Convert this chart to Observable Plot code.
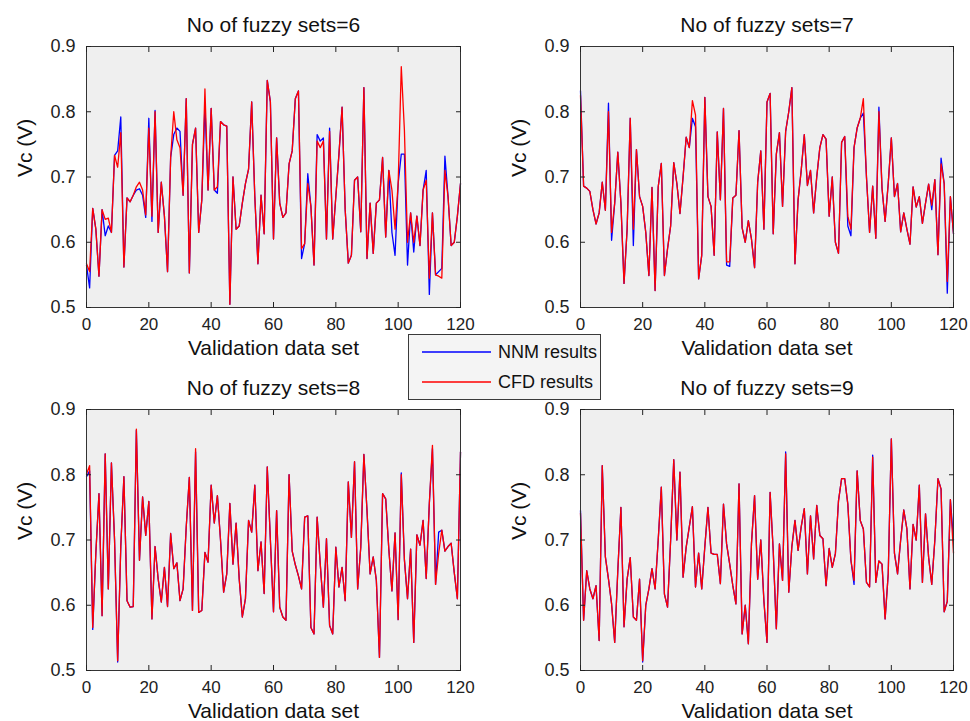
<!DOCTYPE html>
<html><head><meta charset="utf-8">
<script src="https://cdn.jsdelivr.net/npm/d3@7"></script>
<script src="https://cdn.jsdelivr.net/npm/@observablehq/plot@0.6"></script>
<style>
html,body{margin:0;padding:0;background:#fff;}
#chart{position:relative;width:970px;height:721px;overflow:hidden;font-family:"Liberation Sans",Arial,sans-serif;background:#fff;}
.panel{position:absolute;}
#legend{position:absolute;left:408px;top:334px;width:191px;height:64px;border:1px solid #3a3a3a;background:#f4f4f4;z-index:5;}
</style></head><body><div id="chart"></div>
<script>
const xTicks = [0, 20, 40, 60, 80, 100, 120];
const yTicks = [0.5, 0.6, 0.7, 0.8, 0.9];
const panelTitles = ["No of fuzzy sets=6", "No of fuzzy sets=7", "No of fuzzy sets=8", "No of fuzzy sets=9"];
const xLabel = "Validation data set";
const yLabel = "Vc (V)";
const seriesNames = ["NNM results", "CFD results"];

const cfd6 = [0.567,0.555,0.652,0.620,0.548,0.650,0.635,0.637,0.615,0.733,
 0.715,0.768,0.562,0.668,0.662,0.672,0.685,0.692,0.680,0.642,
 0.775,0.640,0.800,0.615,0.692,0.640,0.555,0.730,0.800,0.757,
 0.745,0.672,0.820,0.553,0.750,0.775,0.615,0.665,0.835,0.680,
 0.805,0.680,0.685,0.785,0.780,0.778,0.505,0.700,0.620,0.625,
 0.660,0.690,0.712,0.815,0.670,0.567,0.672,0.613,0.848,0.815,
 0.605,0.760,0.660,0.638,0.645,0.720,0.740,0.820,0.832,0.590,
 0.598,0.690,0.655,0.565,0.755,0.745,0.755,0.605,0.770,0.605,
 0.670,0.735,0.807,0.650,0.568,0.580,0.695,0.700,0.616,0.837,
 0.575,0.660,0.583,0.660,0.665,0.730,0.608,0.710,0.680,0.620,
 0.690,0.869,0.772,0.600,0.645,0.600,0.640,0.595,0.680,0.695,
 0.545,0.645,0.550,0.548,0.545,0.710,0.670,0.595,0.600,0.640,
 0.690];
const nnm6 = [0.565,0.530,0.652,0.620,0.548,0.650,0.610,0.625,0.615,0.733,
 0.740,0.792,0.562,0.668,0.662,0.672,0.680,0.682,0.672,0.638,
 0.790,0.632,0.802,0.615,0.692,0.640,0.555,0.730,0.765,0.775,
 0.770,0.672,0.820,0.553,0.750,0.775,0.615,0.665,0.810,0.680,
 0.805,0.680,0.675,0.785,0.780,0.778,0.505,0.700,0.620,0.625,
 0.660,0.690,0.712,0.815,0.670,0.567,0.672,0.613,0.848,0.815,
 0.605,0.760,0.660,0.638,0.645,0.720,0.740,0.820,0.832,0.575,
 0.598,0.705,0.655,0.565,0.765,0.755,0.760,0.605,0.775,0.605,
 0.670,0.735,0.807,0.650,0.568,0.580,0.695,0.700,0.616,0.837,
 0.575,0.660,0.583,0.660,0.665,0.730,0.608,0.710,0.615,0.580,
 0.690,0.735,0.735,0.565,0.645,0.585,0.640,0.595,0.680,0.710,
 0.520,0.645,0.550,0.555,0.560,0.732,0.670,0.595,0.600,0.640,
 0.690];

const cfd7 = [0.825,0.686,0.683,0.678,0.650,0.628,0.645,0.692,0.649,0.800,
 0.615,0.660,0.738,0.660,0.537,0.620,0.790,0.620,0.742,0.670,
 0.655,0.615,0.549,0.684,0.526,0.685,0.721,0.549,0.590,0.625,
 0.722,0.690,0.644,0.700,0.761,0.745,0.817,0.795,0.544,0.580,
 0.822,0.670,0.655,0.580,0.769,0.665,0.805,0.570,0.570,0.668,
 0.672,0.771,0.622,0.600,0.633,0.605,0.561,0.692,0.740,0.620,
 0.815,0.828,0.613,0.735,0.768,0.655,0.770,0.800,0.837,0.567,
 0.665,0.710,0.765,0.687,0.710,0.645,0.700,0.745,0.765,0.758,
 0.640,0.700,0.600,0.583,0.753,0.762,0.640,0.620,0.745,0.775,
 0.790,0.820,0.700,0.615,0.686,0.606,0.800,0.683,0.632,0.690,
 0.760,0.670,0.690,0.616,0.645,0.620,0.597,0.685,0.654,0.670,
 0.629,0.660,0.689,0.657,0.696,0.581,0.720,0.690,0.540,0.670,
 0.613];
const nnm7 = [0.832,0.686,0.683,0.678,0.650,0.628,0.645,0.692,0.649,0.813,
 0.603,0.660,0.738,0.660,0.537,0.620,0.790,0.595,0.742,0.670,
 0.655,0.615,0.549,0.684,0.526,0.685,0.721,0.549,0.590,0.625,
 0.722,0.690,0.644,0.700,0.761,0.745,0.790,0.777,0.544,0.580,
 0.822,0.670,0.655,0.580,0.769,0.665,0.805,0.565,0.563,0.668,
 0.672,0.771,0.622,0.600,0.633,0.605,0.561,0.692,0.740,0.620,
 0.815,0.828,0.613,0.735,0.768,0.655,0.770,0.800,0.837,0.567,
 0.665,0.710,0.765,0.687,0.710,0.645,0.700,0.745,0.765,0.758,
 0.640,0.700,0.600,0.583,0.753,0.762,0.625,0.610,0.745,0.775,
 0.790,0.798,0.700,0.615,0.686,0.606,0.807,0.683,0.632,0.690,
 0.760,0.670,0.690,0.616,0.645,0.620,0.597,0.685,0.654,0.670,
 0.629,0.660,0.689,0.650,0.696,0.581,0.729,0.690,0.522,0.670,
 0.613];

const cfd8 = [0.801,0.814,0.566,0.680,0.771,0.584,0.832,0.625,0.818,0.700,
 0.515,0.690,0.797,0.607,0.597,0.598,0.870,0.669,0.766,0.707,
 0.759,0.579,0.690,0.640,0.605,0.658,0.598,0.710,0.656,0.665,
 0.607,0.625,0.720,0.796,0.592,0.840,0.589,0.592,0.681,0.666,
 0.784,0.726,0.768,0.700,0.620,0.648,0.756,0.663,0.726,0.640,
 0.582,0.610,0.730,0.712,0.784,0.653,0.697,0.618,0.812,0.700,
 0.590,0.745,0.597,0.582,0.577,0.800,0.683,0.662,0.645,0.625,
 0.735,0.737,0.566,0.556,0.735,0.663,0.597,0.702,0.569,0.556,
 0.689,0.628,0.658,0.607,0.789,0.704,0.820,0.625,0.689,0.831,
 0.745,0.648,0.674,0.638,0.520,0.771,0.763,0.686,0.622,0.711,
 0.578,0.800,0.670,0.610,0.686,0.543,0.708,0.692,0.730,0.641,
 0.756,0.845,0.632,0.680,0.715,0.683,0.690,0.695,0.650,0.610,
 0.835];
const nnm8 = [0.797,0.806,0.563,0.680,0.771,0.584,0.832,0.625,0.818,0.700,
 0.513,0.690,0.797,0.607,0.597,0.598,0.868,0.669,0.766,0.707,
 0.759,0.579,0.690,0.640,0.605,0.658,0.598,0.710,0.656,0.665,
 0.607,0.625,0.720,0.796,0.592,0.835,0.589,0.592,0.681,0.666,
 0.784,0.726,0.768,0.700,0.620,0.648,0.756,0.663,0.726,0.640,
 0.582,0.610,0.730,0.712,0.784,0.653,0.697,0.618,0.812,0.700,
 0.590,0.745,0.597,0.582,0.577,0.800,0.683,0.662,0.645,0.625,
 0.735,0.737,0.566,0.556,0.735,0.663,0.597,0.702,0.569,0.556,
 0.689,0.628,0.658,0.607,0.789,0.704,0.820,0.625,0.689,0.831,
 0.745,0.648,0.674,0.638,0.520,0.771,0.763,0.686,0.622,0.711,
 0.578,0.803,0.670,0.610,0.686,0.543,0.708,0.692,0.730,0.641,
 0.756,0.840,0.632,0.712,0.715,0.683,0.690,0.695,0.650,0.610,
 0.835];

const cfd9 = [0.741,0.577,0.653,0.625,0.610,0.630,0.546,0.814,0.674,0.640,
 0.602,0.543,0.653,0.750,0.567,0.640,0.673,0.582,0.577,0.640,
 0.515,0.600,0.625,0.656,0.625,0.700,0.781,0.617,0.597,0.700,
 0.823,0.700,0.804,0.643,0.689,0.720,0.751,0.628,0.680,0.625,
 0.690,0.750,0.680,0.678,0.678,0.633,0.755,0.694,0.663,0.630,
 0.602,0.786,0.556,0.600,0.541,0.694,0.768,0.640,0.700,0.607,
 0.543,0.773,0.684,0.564,0.694,0.638,0.832,0.620,0.690,0.730,
 0.684,0.720,0.748,0.648,0.737,0.671,0.753,0.707,0.702,0.630,
 0.687,0.658,0.679,0.760,0.794,0.794,0.755,0.669,0.638,0.806,
 0.730,0.717,0.635,0.628,0.827,0.635,0.668,0.663,0.579,0.648,
 0.855,0.680,0.648,0.700,0.746,0.717,0.625,0.724,0.700,0.784,
 0.635,0.740,0.673,0.632,0.700,0.794,0.778,0.590,0.606,0.762,
 0.680];
const nnm9 = [0.745,0.577,0.653,0.625,0.610,0.630,0.546,0.814,0.674,0.640,
 0.602,0.543,0.653,0.750,0.567,0.640,0.673,0.582,0.577,0.640,
 0.513,0.600,0.625,0.656,0.625,0.700,0.781,0.617,0.597,0.700,
 0.823,0.700,0.804,0.643,0.689,0.720,0.751,0.628,0.680,0.625,
 0.690,0.750,0.680,0.678,0.678,0.633,0.755,0.694,0.663,0.630,
 0.602,0.786,0.556,0.600,0.541,0.694,0.768,0.640,0.700,0.607,
 0.543,0.773,0.684,0.564,0.694,0.638,0.835,0.620,0.690,0.730,
 0.684,0.720,0.748,0.648,0.737,0.671,0.753,0.707,0.702,0.630,
 0.687,0.658,0.679,0.760,0.794,0.794,0.755,0.669,0.632,0.806,
 0.730,0.717,0.635,0.628,0.830,0.635,0.668,0.663,0.579,0.648,
 0.855,0.680,0.648,0.700,0.746,0.717,0.625,0.724,0.700,0.784,
 0.635,0.740,0.673,0.632,0.700,0.794,0.778,0.590,0.606,0.762,
 0.700];

const FONT = '"Liberation Sans", Arial, Helvetica, sans-serif';

function panel(title, nnm, cfd, pos) {
  const fig = Plot.plot({
    width: 485, height: 358,
    marginLeft: pos.ml, marginRight: pos.mr, marginTop: 46, marginBottom: 51,
    style: {fontFamily: FONT, fontSize: "18px", color: "#222", background: "transparent", overflow: "visible"},
    x: {domain: [0, 120]},
    y: {domain: [0.5, 0.9]},
    marks: [
      Plot.frame({fill: "#efefef", stroke: null}),
      Plot.lineY(nnm, {stroke: "#0000ff", strokeWidth: 1.3}),
      Plot.lineY(cfd, {stroke: "#ff0000", strokeWidth: 1.3}),
      Plot.frame({stroke: "#333", strokeWidth: 1}),
      Plot.axisX(xTicks, {anchor: "bottom", tickSize: -5, tickPadding: 15, fontSize: 17, label: null}),
      Plot.axisX(xTicks, {anchor: "top", tickSize: -5, tickFormat: () => "", label: null}),
      Plot.axisY(yTicks, {anchor: "left", tickSize: -5, tickPadding: 16, fontSize: 18, tickFormat: d3.format(".1f"), label: null}),
      Plot.axisY(yTicks, {anchor: "right", tickSize: -5, tickFormat: () => "", label: null}),
      Plot.text([title], {text: d => d, frameAnchor: "top", dy: -29, fontSize: 21, fill: "#111"}),
      Plot.text([xLabel], {text: d => d, frameAnchor: "bottom", dy: 47, fontSize: 21, fill: "#111"}),
      Plot.text([yLabel], {text: d => d, frameAnchor: "left", dx: -61, rotate: -90, fontSize: 21, fill: "#111"})
    ]
  });
  fig.classList.add("panel");
  fig.style.left = pos.left + "px";
  fig.style.top = pos.top + "px";
  return fig;
}

const chart = document.getElementById("chart");
const layout = [
  {left: 0, top: 0, ml: 86, mr: 25},
  {left: 485, top: 0, ml: 95, mr: 17},
  {left: 0, top: 363, ml: 86, mr: 25},
  {left: 485, top: 363, ml: 95, mr: 17}
];
const nnmSets = [nnm6, nnm7, nnm8, nnm9];
const cfdSets = [cfd6, cfd7, cfd8, cfd9];
panelTitles.forEach((t, k) => chart.appendChild(panel(t, nnmSets[k], cfdSets[k], layout[k])));

// legend
const legend = document.createElement("div");
legend.id = "legend";
const colors = ["#0000ff", "#ff0000"];
let svg = '<svg width="191" height="64" style="display:block">';
seriesNames.forEach((n, k) => {
  const y = 17 + k * 30;
  svg += `<line x1="13" y1="${y}" x2="82" y2="${y}" stroke="${colors[k]}" stroke-width="1.3"/>`;
  svg += `<text x="89" y="${y}" dy="0.35em" font-family='${FONT}' font-size="18" fill="#111">${n}</text>`;
});
svg += '</svg>';
legend.innerHTML = svg;
chart.appendChild(legend);
</script>
</body></html>
